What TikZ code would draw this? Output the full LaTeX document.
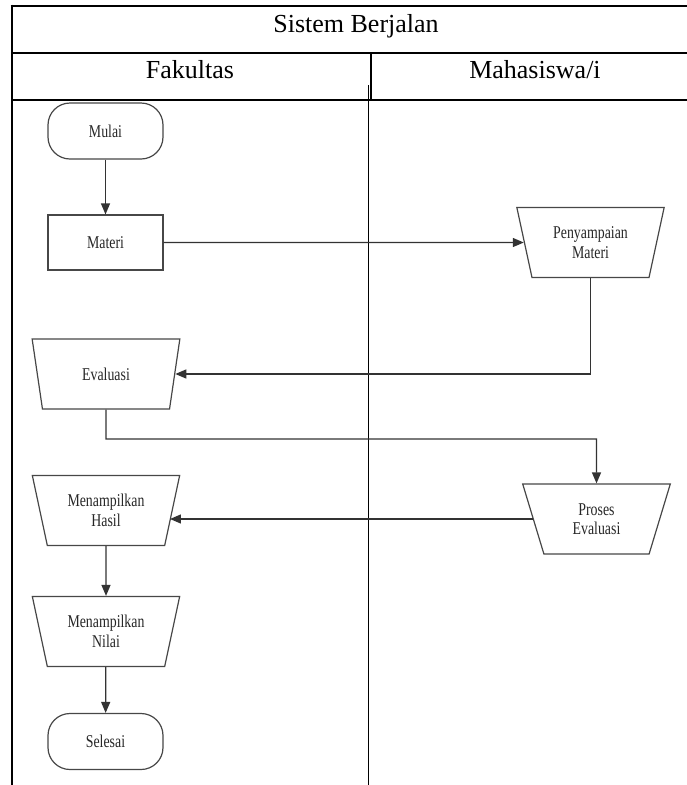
\documentclass[tikz,border=0pt]{standalone}
\usepackage{fontspec}
\setmainfont{Liberation Serif}
\newfontfamily\narrowserif{Liberation Serif}[FakeStretch=0.77]
\usetikzlibrary{shapes.geometric,arrows.meta,calc}

\tikzset{
  frame/.style={line width=2.6pt, black},
  rowline/.style={line width=2pt, black},
  divider/.style={line width=1.5pt, black},
  head/.style={font=\fontsize{26}{30}\selectfont, inner sep=0pt},
  box/.style={draw=black!72, line width=1.2pt, align=center, inner sep=0pt,
    font=\narrowserif\fontsize{18}{19.5}\selectfont, text=black!85},
  terminal/.style={box, rectangle, rounded corners=22pt,
    minimum width=115pt, minimum height=56pt},
  process/.style={box, rectangle, minimum width=115pt, minimum height=55pt},
  manual/.style={box, trapezium, trapezium stretches=true,
    trapezium left angle=73, trapezium right angle=73,
    shape border rotate=180, minimum width=148pt, minimum height=70pt},
  flow/.style={draw=black!80, line width=1.3pt,
    -{Triangle[length=11pt,width=9pt]}},
}

\begin{document}
\begin{tikzpicture}[x=1pt, y=-1pt]
\useasboundingbox (0,0) rectangle (687,785);

% swimlane table
\draw[frame] (12,4.7) -- (12,785);
\draw[frame] (10.7,6) -- (687,6);
\draw[rowline] (12,53) -- (687,53);
\draw[rowline] (12,100) -- (687,100);
\draw[frame] (371,53) -- (371,100);
\draw[divider] (368.5,85) -- (368.5,785);

\node[head, anchor=base] (title) at (356,32) {Sistem Berjalan};
\node[head, anchor=base] (lane1) at (190,78) {Fakultas};
\node[head, anchor=base] (lane2) at (535,78) {Mahasiswa/i};

% flow nodes
\node[terminal] (mulai)   at (105.5,131)   {Mulai};
\node[process]  (materi)  at (105.5,242.5) {Materi};
\node[manual]   (peny)    at (590.5,242.5) {Penyampaian\\Materi};
\node[manual]   (eval)    at (106,374)     {Evaluasi};
\node[manual]   (proses)  at (596.5,519)   {Proses\\Evaluasi};
\node[manual]   (hasil)   at (106,510.5)   {Menampilkan\\Hasil};
\node[manual]   (nilai)   at (106,631.5)   {Menampilkan\\Nilai};
\node[terminal] (selesai) at (105.5,741.5) {Selesai};

\coordinate (evalbend) at (106,439);

% connectors
\draw[flow] (mulai) -- (materi);
\draw[flow] (materi.east) -- (peny.west);
\draw[flow] (peny.south) |- (eval.east);
\draw[flow] (eval.south) -- (evalbend) -| (proses.north);
\draw[flow, shorten >=-2.8pt] (proses.west) -- (proses.west -| hasil.east);
\draw[flow] (hasil) -- (nilai);
\draw[flow] (nilai) -- (selesai);
\end{tikzpicture}
\end{document}
